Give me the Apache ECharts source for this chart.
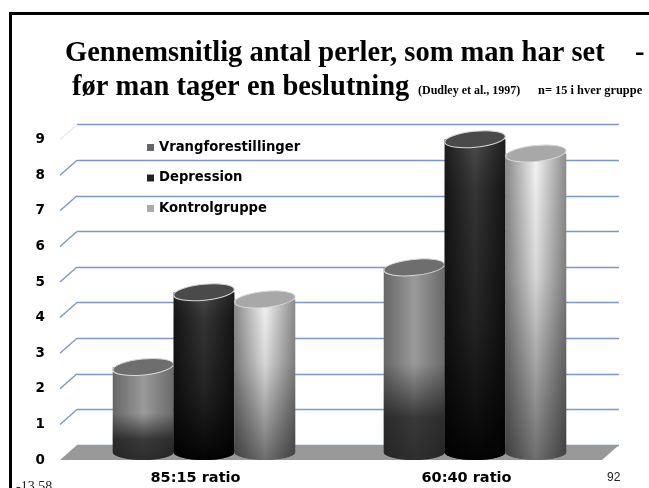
<!DOCTYPE html>
<html>
<head>
<meta charset="utf-8">
<style>html,body{margin:0;padding:0;background:#fff;overflow:hidden}#chart{width:649px;height:488px}</style>
<script src="https://cdn.jsdelivr.net/npm/echarts@6/dist/echarts.min.js"></script>
</head>
<body>
<div id="chart"></div>
<script>
const categories = ['85:15 ratio', '60:40 ratio']
const vrangforestillinger = [2.4, 5.2]
const depression = [4.5, 8.8]
const kontrolgruppe = [4.3, 8.4]
const ticks = [0, 1, 2, 3, 4, 5, 6, 7, 8, 9]

const gridColor = '#7c97ca'
const depthX = 17, depthY = -15

function grad(stops, vertical) {
    return new echarts.graphic.LinearGradient(0, 0, vertical ? 0 : 1, vertical ? 1 : 0,
        stops.map(s => ({offset: s[0], color: s[1]})))
}

const looks = [
    {
        legend: '#666',
        cap: '#6e6e6e',
        body: [[0, '#666'], [0.5, '#9a9a9a'], [1, '#6a6a6a']],
        shade: [[0, 'rgba(20,20,20,0)'], [0.5, 'rgba(20,20,20,0)'], [0.78, 'rgba(20,20,20,0.72)'], [1, 'rgba(20,20,20,0.8)']]
    },
    {
        legend: '#222',
        cap: '#4a4a4a',
        body: [[0, '#1e1e1e'], [0.5, '#4c4c4c'], [1, '#1e1e1e']],
        shade: [[0, 'rgba(0,0,0,0)'], [0.15, 'rgba(0,0,0,0.3)'], [0.6, 'rgba(0,0,0,0.55)'], [1, 'rgba(0,0,0,0.95)']]
    },
    {
        legend: '#aaa',
        cap: '#a8a8a8',
        body: [[0, '#8a8a8a'], [0.5, '#f4f4f4'], [1, '#8c8c8c']],
        shade: [[0, 'rgba(0,0,0,0)'], [0.4, 'rgba(0,0,0,0.12)'], [1, 'rgba(0,0,0,0.55)']]
    }
]

function cylinder(seriesIdx) {
    return function (params, api) {
        const band = api.size([1, 0])[0]
        const w = band * 0.2245
        const rx = w / 2, ry = 8
        const top = api.coord([api.value(0), api.value(1)])
        const base = api.coord([api.value(0), 0])
        const cx = top[0] + (seriesIdx - 1) * w + depthX / 2
        const yt = top[1] + depthY / 2, yb = base[1] + depthY / 2
        const x0 = cx - rx, x1 = cx + rx
        const pathData = `M${x0} ${yt}L${x0} ${yb}A${rx} 7.5 0 0 0 ${x1} ${yb}L${x1} ${yt}Z`
        const rect = {pathData, x: x0, y: yt, width: w, height: yb + 7.5 - yt, layout: 'cover'}
        const look = looks[seriesIdx]
        return {
            type: 'group',
            children: [
                {type: 'path', shape: rect, style: {fill: grad(look.body, false)}},
                {type: 'path', shape: rect, style: {fill: grad(look.shade, true)}},
                {type: 'ellipse', shape: {cx, cy: yt, rx, ry}, rotation: 0.1, originX: cx, originY: yt,
                    style: {fill: look.cap, stroke: '#d8d8d8', lineWidth: 1}}
            ]
        }
    }
}

function barSeries(name, values, idx) {
    return {
        name,
        type: 'custom',
        xAxisIndex: 0,
        yAxisIndex: 0,
        z: 5 + idx,
        clip: false,
        itemStyle: {color: looks[idx].legend},
        encode: {x: 0, y: 1},
        data: values.map((v, i) => [i, v]),
        renderItem: cylinder(idx)
    }
}

const titleFont = {fontFamily: 'Liberation Serif', fontWeight: 'bold', fontSize: 28.5, color: '#000'}
const smallFont = {fontFamily: 'Liberation Serif', fontWeight: 'bold', fontSize: 12, color: '#000'}

const option = {
    animation: false,
    backgroundColor: '#fff',
    title: [
        {text: 'Gennemsnitlig antal perler, som man har set', left: 60, top: 34, textStyle: titleFont},
        {text: 'før man tager en beslutning', left: 67, top: 68, textStyle: titleFont},
        {text: '(Dudley et al., 1997)', left: 413, top: 80, textStyle: smallFont},
        {text: 'n= 15 i hver gruppe', left: 533, top: 80, textStyle: {...smallFont, fontSize: 12.4}},
        {text: '-', left: 630, top: 34, textStyle: titleFont},
        {text: '92', left: 602, top: 467,
            textStyle: {fontFamily: 'Liberation Sans', fontWeight: 'normal', fontSize: 12, color: '#222'}},
        {text: '-13.58', left: 11, top: 475,
            textStyle: {fontFamily: 'Liberation Serif', fontWeight: 'normal', fontSize: 14, color: '#222'}}
    ],
    graphic: [
        {type: 'rect', shape: {x: 9, y: 12, width: 640, height: 3}, style: {fill: '#000'}},
        {type: 'rect', shape: {x: 9, y: 12, width: 3, height: 476}, style: {fill: '#000'}}
    ],
    legend: {
        orient: 'vertical',
        left: 142,
        top: 136,
        itemWidth: 7,
        itemHeight: 7,
        itemGap: 17.5,
        icon: 'rect',
        selectedMode: false,
        textStyle: {fontFamily: 'DejaVu Sans', fontWeight: 'bold', fontSize: 13.2, color: '#000'},
        data: ['Vrangforestillinger', 'Depression', 'Kontrolgruppe']
    },
    grid: [
        {left: 60, width: 542, top: 139.6, height: 320.4},
        {left: 77, width: 542, top: 124.6, height: 320.4}
    ],
    xAxis: [
        {type: 'category', gridIndex: 0, data: categories, axisLine: {show: false}, axisTick: {show: false},
            axisLabel: {margin: 11, fontFamily: 'DejaVu Sans', fontWeight: 'bold', fontSize: 14.5, color: '#000'}},
        {type: 'category', gridIndex: 1, data: categories, show: false}
    ],
    yAxis: [
        {type: 'value', gridIndex: 0, min: 0, max: 9, interval: 1, splitLine: {show: false},
            axisLine: {show: false}, axisTick: {show: false},
            axisLabel: {margin: 15, fontFamily: 'DejaVu Sans', fontWeight: 'bold', fontSize: 13.5, color: '#000'}},
        {type: 'value', gridIndex: 1, min: 0, max: 9, interval: 1, axisLine: {show: false}, axisTick: {show: false},
            axisLabel: {show: false}, splitLine: {show: true, lineStyle: {color: gridColor, width: 1.4}}}
    ],
    series: [
        {
            // floor of the 3D plot
            type: 'custom',
            z: 1,
            clip: false,
            silent: true,
            data: [[0, 0]],
            renderItem: function (params, api) {
                const band = api.size([1, 0])[0]
                const p = api.coord([0, 0])
                const x0 = p[0] - band / 2, x1 = x0 + band * categories.length
                return {
                    type: 'polygon',
                    shape: {points: [[x0, p[1]], [x0 + depthX, p[1] + depthY], [x1 + depthX, p[1] + depthY], [x1, p[1]]]},
                    style: {fill: '#999'}
                }
            }
        },
        {
            // side wall lines going from the axis back to the grid lines
            type: 'custom',
            z: 2,
            clip: false,
            silent: true,
            data: ticks.filter(t => t > 0).map(t => [0, t]),
            renderItem: function (params, api) {
                const band = api.size([1, 0])[0]
                const p = api.coord([0, api.value(1)])
                const x0 = p[0] - band / 2
                return {
                    type: 'line',
                    shape: {x1: x0, y1: p[1], x2: x0 + depthX, y2: p[1] + depthY},
                    style: {stroke: api.value(1) === 9 ? '#e4e9f3' : gridColor, lineWidth: 1.4}
                }
            }
        },
        barSeries('Vrangforestillinger', vrangforestillinger, 0),
        barSeries('Depression', depression, 1),
        barSeries('Kontrolgruppe', kontrolgruppe, 2)
    ]
}

echarts.init(document.getElementById('chart')).setOption(option)
</script>
</body>
</html>
